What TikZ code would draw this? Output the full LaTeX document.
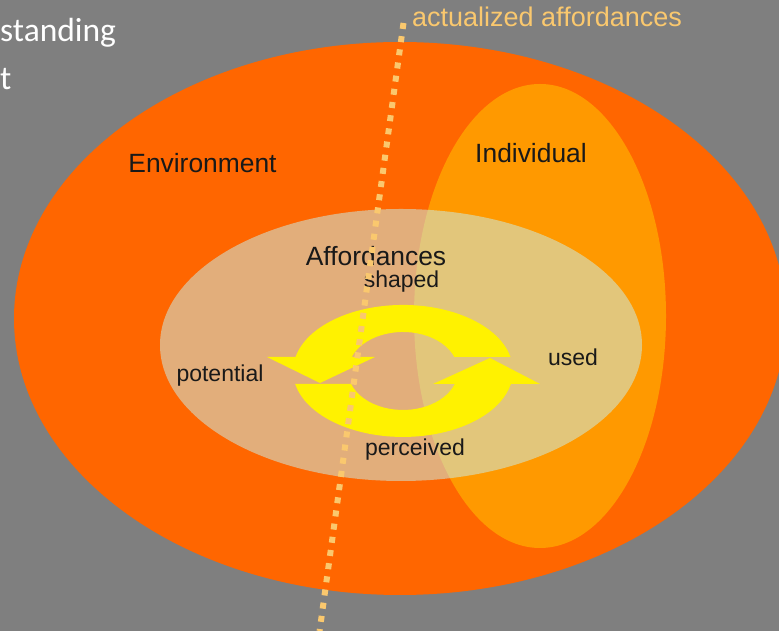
\documentclass[tikz,border=0pt]{standalone}
\usepackage{fontspec}
\setmainfont{Liberation Sans}
\newfontfamily\slidefont{Carlito}
\definecolor{slidegray}{RGB}{127,127,127}
\definecolor{envorange}{RGB}{255,102,0}
\definecolor{indorange}{RGB}{255,153,0}
\definecolor{affpale}{RGB}{202,238,234}
\definecolor{actualcol}{RGB}{250,200,110}
\begin{document}
\begin{tikzpicture}
		[x=1pt,y=1pt,
		 bigword/.style={inner sep=0pt,anchor=base,text=black!90,font=\fontsize{26.4}{30}\selectfont},
		 word/.style={inner sep=0pt,anchor=base,text=black!90,font=\fontsize{23}{27}\selectfont},
		 cycle arrow/.style={fill=yellow},
		 actualline/.style={draw=actualcol,line width=6pt,dash pattern=on 6pt off 7.3pt}]
		% slide background
		\useasboundingbox (0,0) rectangle (779,631);
		\fill[slidegray] (0,0) rectangle (779,631);

		% title remains on the left
		\node[inner sep=0pt,anchor=base west,text=white,font=\slidefont\fontsize{33.5}{36}\selectfont] (title1) at (0,589) {standing};
		\node[inner sep=0pt,anchor=base west,text=white,font=\slidefont\fontsize{33.5}{36}\selectfont] (title2) at (0,541) {t};

		% environment, individual and affordances
		\fill[envorange] (400,312.5) ellipse [x radius=386, y radius=276.5];
		\fill[indorange] (540,315) ellipse [x radius=126, y radius=232];
		\fill[affpale,fill opacity=0.53] (401,286) ellipse [x radius=241, y radius=136];

		% the two yellow arrows
		\fill[cycle arrow] (510.5,274) arc[start angle=12.2, end angle=167.8, x radius=110, y radius=66]
			-- (267,274) -- (320,248) -- (375,274) -- (351.7,274)
			arc[start angle=159, end angle=21, x radius=55, y radius=39] -- cycle;
		\fill[cycle arrow] (295.2,247) arc[start angle=191.4, end angle=348.6, x radius=110, y radius=66]
			-- (540,247) -- (490,273) -- (433,247) -- (454.8,247)
			arc[start angle=340.5, end angle=199.5, x radius=55, y radius=39] -- cycle;

		% labels
		\node[bigword] (env) at (202.5,458) {Environment};
		\node[bigword] (indiv) at (531,468) {Individual};
		\node[bigword] (aff) at (376,365) {Affordances};
		\node[word] (shaped) at (401.5,343) {shaped};
		\node[word] (potential) at (220,249) {potential};
		\node[word] (used) at (573,265) {used};
		\node[word] (perceived) at (415,175) {perceived};

		% actualized affordances line
		\node[inner sep=0pt,anchor=base west,text=actualcol,font=\fontsize{27}{30}\selectfont] (actual) at (412,604) {actualized affordances};
		\coordinate (dottop) at (403.5,608);
		\coordinate (dotbot) at (319.6,0);
		\draw[actualline] (dottop) -- (dotbot);
	\end{tikzpicture}
\end{document}
